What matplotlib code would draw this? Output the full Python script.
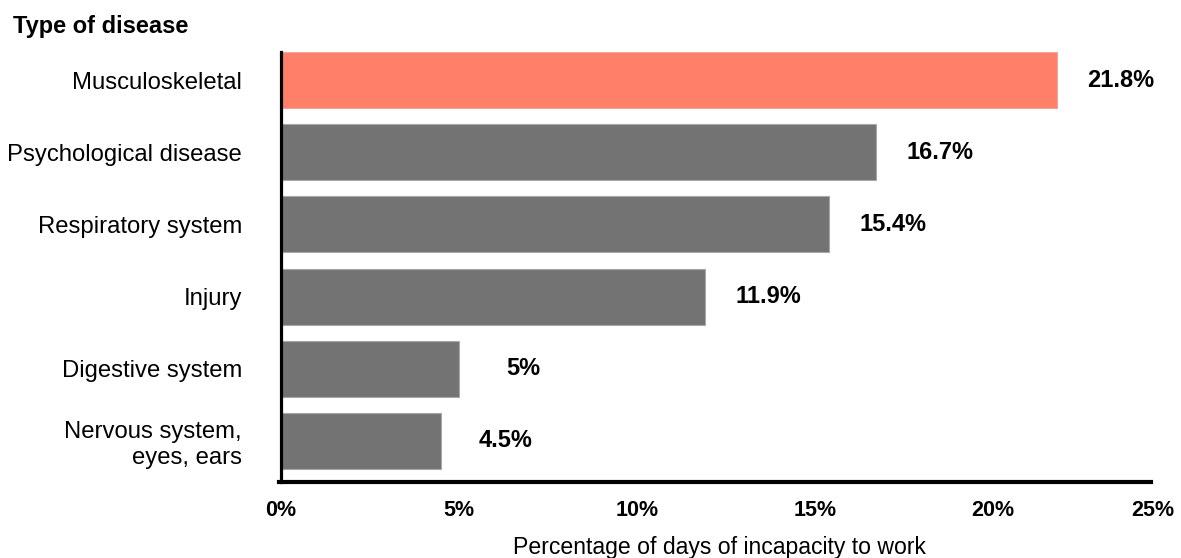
import matplotlib
matplotlib.use("Agg")
import matplotlib.pyplot as plt
from matplotlib.transforms import ScaledTranslation

plt.rcParams['font.family'] = ['Liberation Sans', 'DejaVu Sans']

# Datos
categorias = ["Musculoskeletal", "Psychological disease", "Respiratory system",
              "Injury", "Digestive system", "Nervous system,\neyes, ears"]
porcentajes = [21.8, 16.7, 15.4, 11.9, 5.0, 4.5]
etiquetas_valor = ["21.8%", "16.7%", "15.4%", "11.9%", "5%", "4.5%"]
ticks_x = [0, 5, 10, 15, 20, 25]
ticks_x_etiquetas = ["0%", "5%", "10%", "15%", "20%", "25%"]

colores = ["#FF7F69"] + ["#737373"] * (len(categorias) - 1)
bordes = ["#E8A8A0"] + ["#A8A8A8"] * (len(categorias) - 1)

fig = plt.figure(figsize=(11.81, 5.58), dpi=100)
ax = fig.add_axes([281 / 1181, 76 / 558, 890 / 1181, 430 / 558])

posiciones = list(range(len(categorias)))
ax.barh(posiciones, porcentajes, height=0.775, color=colores, edgecolor=bordes, linewidth=0.8)

# Etiquetas de valor
for p, v, t in zip(posiciones, porcentajes, etiquetas_valor):
    ax.text(v + 1.8, p, t, ha='center', va='center', fontsize=17, fontweight='bold')

ax.set_xlim(0, 25)
ax.set_ylim(5.568, -0.388)
ax.set_yticks(posiciones)
ax.set_yticklabels(categorias, fontsize=17.2, ha='right', multialignment='right')
ax.set_xticks(ticks_x)
ax.set_xticklabels(ticks_x_etiquetas, fontsize=15.5, fontweight='bold')
ax.tick_params(axis='x', length=0, pad=13)
ax.tick_params(axis='y', length=0, pad=28)

# La etiqueta de 25% queda un poco a la izquierda en el original
ult = ax.get_xticklabels()[-1]
ult.set_transform(ult.get_transform() + ScaledTranslation(-18 / 100, 0, fig.dpi_scale_trans))

# Ejes
for lado in ['top', 'right']:
    ax.spines[lado].set_visible(False)
ax.spines['left'].set_linewidth(2.3)
ax.spines['bottom'].set_linewidth(3)
ax.spines['bottom'].set_bounds(-0.05, 24.45)

ax.set_xlabel("Percentage of days of incapacity to work", fontsize=16.6)
ax.xaxis.set_label_coords(0.493, -0.152)
ax.xaxis.label.set_va('center')

fig.text(13 / 1181, 1 - 26 / 558, "Type of disease", ha='left', va='center',
         fontsize=17, fontweight='bold')

fig.savefig("out.png", dpi=100)
